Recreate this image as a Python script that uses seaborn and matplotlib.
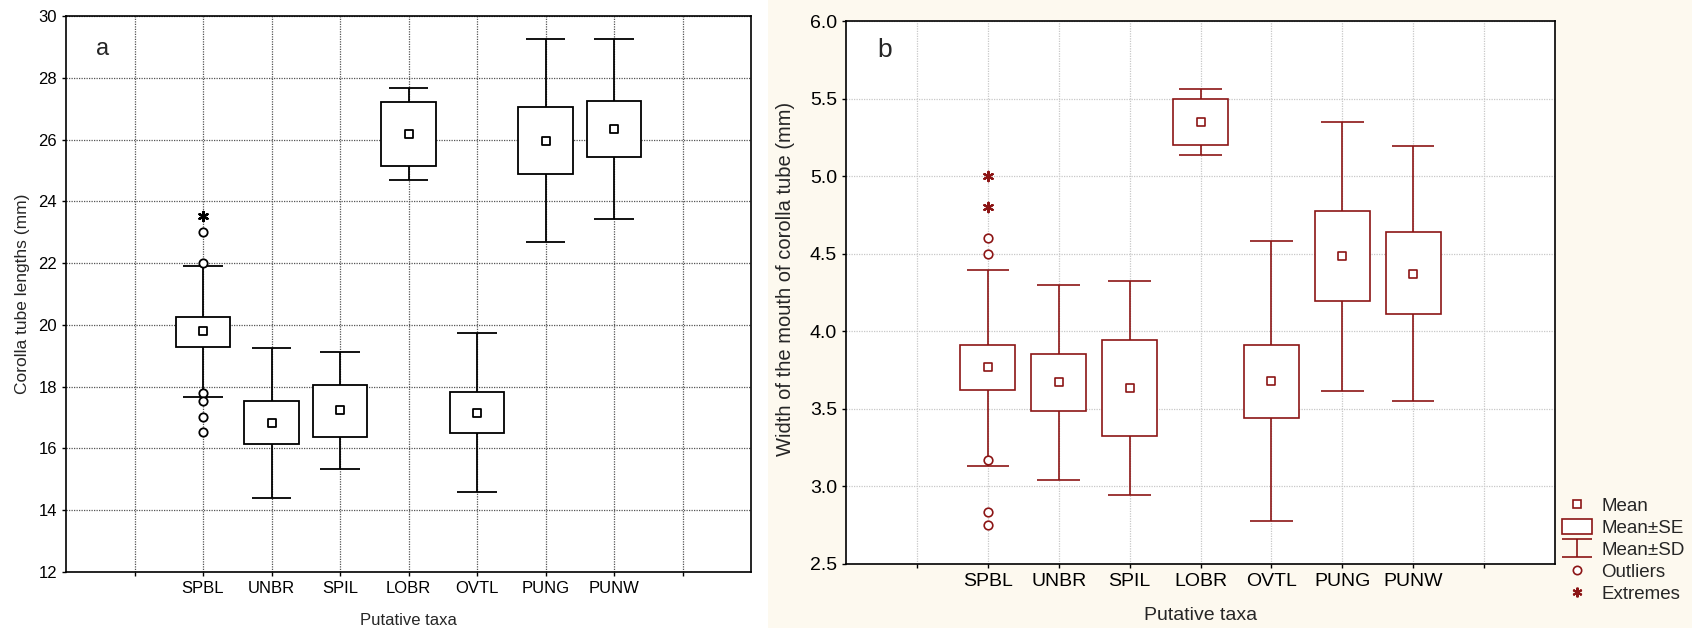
import numpy as np
import pandas as pd
import matplotlib
matplotlib.use("Agg")
import matplotlib.pyplot as plt
from matplotlib.path import Path
from matplotlib.lines import Line2D
from matplotlib.patches import Patch, Rectangle
from matplotlib import font_manager
import seaborn as sns

# ---------------- data ----------------
taxa = ["SPBL", "UNBR", "SPIL", "LOBR", "OVTL", "PUNG", "PUNW"]

# panel a: corolla tube length (mm)
a_mean = [19.8, 16.82, 17.23, 26.17, 17.16, 25.96, 26.34]
a_se_lo = [19.30, 16.13, 16.38, 25.13, 16.49, 24.88, 25.42]
a_se_hi = [20.27, 17.53, 18.06, 27.22, 17.82, 27.06, 27.26]
a_sd_lo = [17.65, 14.40, 15.34, 24.69, 14.58, 22.69, 23.42]
a_sd_hi = [21.92, 19.26, 19.12, 27.66, 19.75, 29.26, 29.26]
a_out_taxon = ["SPBL", "SPBL", "SPBL", "SPBL", "SPBL", "SPBL"]
a_out_val = [23.0, 22.0, 17.78, 17.52, 17.03, 16.52]
a_ext_taxon = ["SPBL"]
a_ext_val = [23.52]

# panel b: width of the mouth of corolla tube (mm)
b_mean = [3.767, 3.672, 3.636, 5.350, 3.682, 4.485, 4.371]
b_se_lo = [3.623, 3.486, 3.326, 5.200, 3.444, 4.196, 4.113]
b_se_hi = [3.912, 3.855, 3.945, 5.499, 3.914, 4.776, 4.637]
b_sd_lo = [3.132, 3.042, 2.944, 5.135, 2.779, 3.615, 3.548]
b_sd_hi = [4.394, 4.300, 4.325, 5.561, 4.583, 5.352, 5.197]
b_out_taxon = ["SPBL", "SPBL", "SPBL", "SPBL", "SPBL"]
b_out_val = [4.60, 4.50, 3.168, 2.835, 2.753]
b_ext_taxon = ["SPBL", "SPBL"]
b_ext_val = [5.00, 4.80]

# ---------------- style ----------------
sns.set_theme(style="white")
avail = {f.name for f in font_manager.fontManager.ttflist}
narrow = "Liberation Sans Narrow" if "Liberation Sans Narrow" in avail else "Liberation Sans"
plt.rcParams["font.family"] = ["Liberation Sans", "DejaVu Sans"]

DARKRED = "#8c1515"
BEIGE = "#fdf9ef"

fig = plt.figure(figsize=(16.92, 6.28), dpi=100)
fig.patch.set_facecolor("white")
fig.add_artist(Rectangle((768 / 1692, 0), 1 - 768 / 1692, 1, transform=fig.transFigure,
                         facecolor=BEIGE, edgecolor="none", zorder=-10))

ax1 = fig.add_axes([66 / 1692, (628 - 572) / 628, (751 - 66) / 1692, (572 - 16) / 628])
ax2 = fig.add_axes([846 / 1692, (628 - 564) / 628, (1555 - 846) / 1692, (564 - 21) / 628])

pos_of = {t: i + 2 for i, t in enumerate(taxa)}
pos = np.array([pos_of[t] for t in taxa], dtype=float)

ibeam = Path([(-1, 0.57), (1, 0.57), (0, 0.57), (0, -0.57), (-1, -0.57), (1, -0.57)],
             [Path.MOVETO, Path.LINETO, Path.MOVETO, Path.LINETO, Path.MOVETO, Path.LINETO])


def draw_panel(ax, mean, se_lo, se_hi, sd_lo, sd_hi, out_t, out_v, ext_t, ext_v,
               color, lw, boxw, capw, msize, osize):
    se_lo = np.array(se_lo); se_hi = np.array(se_hi)
    ax.vlines(pos, sd_lo, sd_hi, color=color, lw=lw, zorder=3)
    ax.hlines(sd_lo, pos - capw / 2, pos + capw / 2, color=color, lw=lw, zorder=3)
    ax.hlines(sd_hi, pos - capw / 2, pos + capw / 2, color=color, lw=lw, zorder=3)
    ax.bar(pos, se_hi - se_lo, bottom=se_lo, width=boxw, facecolor="white",
           edgecolor=color, linewidth=lw, zorder=4)
    dm = pd.DataFrame({"x": pos, "y": mean})
    sns.scatterplot(data=dm, x="x", y="y", marker="s", s=msize ** 2, facecolor="white",
                    edgecolor=color, linewidth=lw, ax=ax, zorder=5, legend=False)
    do = pd.DataFrame({"x": [pos_of[t] for t in out_t], "y": out_v})
    sns.scatterplot(data=do, x="x", y="y", marker="o", s=osize ** 2, facecolor="white",
                    edgecolor=color, linewidth=lw, ax=ax, zorder=6, legend=False)
    de = pd.DataFrame({"x": [pos_of[t] for t in ext_t], "y": ext_v})
    sns.scatterplot(data=de, x="x", y="y", marker=(6, 2, 0), s=(osize * 1.1) ** 2,
                    color=color, edgecolor=color, linewidth=lw * 1.3, ax=ax, zorder=6,
                    legend=False)
    ax.set_xlim(0, 10)
    ax.set_xticks(np.arange(1, 10))
    ax.set_xticklabels([""] + taxa + [""])


# ---------- panel a ----------
draw_panel(ax1, a_mean, a_se_lo, a_se_hi, a_sd_lo, a_sd_hi, a_out_taxon, a_out_val,
           a_ext_taxon, a_ext_val, "black", 1.3, 0.8, 0.57, 6.0, 6.0)
ax1.set_ylim(12, 30)
ax1.set_yticks(np.arange(12, 31, 2))
ax1.grid(True, color="#555555", linestyle=(0, (1, 1)), linewidth=0.9)
ax1.set_axisbelow(True)
for s in ax1.spines.values():
    s.set_color("black"); s.set_linewidth(1.2)
ax1.tick_params(axis="both", direction="out", length=3, width=1, colors="black",
                labelsize=12, left=True, bottom=True)
ax1.set_xlabel("Putative taxa", fontsize=12, labelpad=12)
ax1.set_ylabel("Corolla tube lengths (mm)", fontsize=12.5, labelpad=6)
ax1.text(0.054, 0.94, "a", transform=ax1.transAxes, fontsize=17, ha="center", va="center")

# ---------- panel b ----------
draw_panel(ax2, b_mean, b_se_lo, b_se_hi, b_sd_lo, b_sd_hi, b_out_taxon, b_out_val,
           b_ext_taxon, b_ext_val, DARKRED, 1.2, 0.78, 0.6, 5.5, 6.2)
ax2.set_facecolor("white")
ax2.set_ylim(2.5, 6.0)
ax2.set_yticks(np.arange(2.5, 6.01, 0.5))
ax2.set_yticklabels([f"{v:.1f}" for v in np.arange(2.5, 6.01, 0.5)])
ax2.grid(True, color="#c8c8c8", linestyle=(0, (1, 1)), linewidth=0.9)
ax2.set_axisbelow(True)
for s in ax2.spines.values():
    s.set_color("black"); s.set_linewidth(1.2)
ax2.tick_params(axis="both", direction="out", length=3, width=1, colors="black",
                labelsize=14, left=True, bottom=True)
for lab in ax2.get_xticklabels() + ax2.get_yticklabels():
    lab.set_family([narrow, "DejaVu Sans"])
ax2.set_xlabel("Putative taxa", fontsize=14, labelpad=12, family=[narrow, "DejaVu Sans"])
ax2.set_ylabel("Width of the mouth of corolla tube (mm)", fontsize=14.5)
ax2.yaxis.set_label_coords(-0.072, 0.525)
ax2.text(0.055, 0.947, "b", transform=ax2.transAxes, fontsize=19, ha="center", va="center",
         family=[narrow, "DejaVu Sans"])

handles = [
    Line2D([], [], linestyle="none", marker="s", markersize=6, markerfacecolor="white",
           markeredgecolor=DARKRED, markeredgewidth=1.2),
    Patch(facecolor="white", edgecolor=DARKRED, linewidth=1.2),
    Line2D([], [], linestyle="none", marker=ibeam, markersize=21.6, markerfacecolor="none",
           markeredgecolor=DARKRED, markeredgewidth=1.2),
    Line2D([], [], linestyle="none", marker="o", markersize=6, markerfacecolor="white",
           markeredgecolor=DARKRED, markeredgewidth=1.2),
    Line2D([], [], linestyle="none", marker=(6, 2, 0), markersize=7,
           markeredgecolor=DARKRED, markeredgewidth=1.5),
]
labels = ["Mean", "Mean\u00b1SE", "Mean\u00b1SD", "Outliers", "Extremes"]
fig.legend(handles, labels, loc="lower left", bbox_to_anchor=(1562 / 1692, 0.04),
           frameon=False, labelspacing=0.23, handlelength=1.6,
           handleheight=0.8, handletextpad=0.5, borderpad=0, borderaxespad=0,
           prop={"family": [narrow, "DejaVu Sans"], "size": 13.5})

fig.savefig("out.png", dpi=100)
